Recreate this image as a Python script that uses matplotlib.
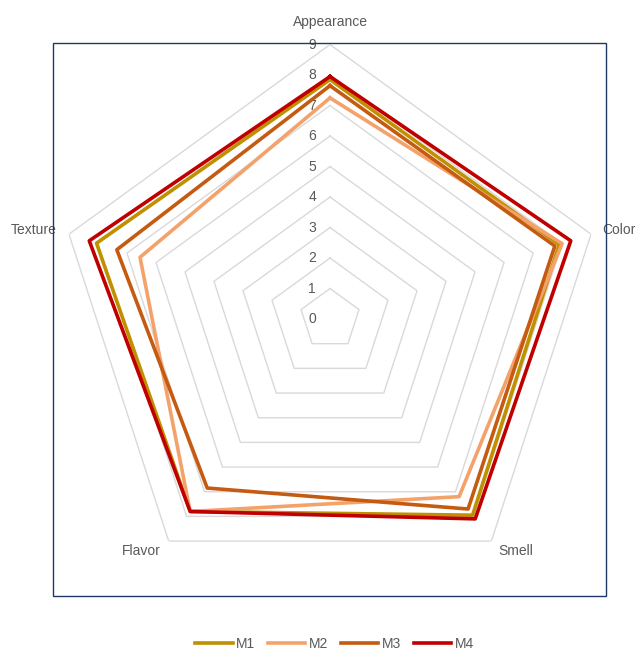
import numpy as np
import matplotlib.pyplot as plt
from matplotlib.patches import Rectangle
from matplotlib.transforms import offset_copy

plt.rcParams['font.family'] = ['Liberation Sans', 'DejaVu Sans']

categories = ['Appearance', 'Color', 'Smell', 'Flavor', 'Texture']
levels = [0, 1, 2, 3, 4, 5, 6, 7, 8, 9]

m1 = [7.85, 7.9, 7.95, 7.8, 8.05]
m2 = [7.25, 8.0, 7.2, 7.8, 6.55]
m3 = [7.65, 7.75, 7.7, 6.85, 7.35]
m4 = [7.95, 8.3, 8.1, 7.8, 8.3]

series = {'M1': m1, 'M2': m2, 'M3': m3, 'M4': m4}
colors = {'M1': '#BF9000', 'M2': '#F4A26B', 'M3': '#C55A11', 'M4': '#C00000'}

fig = plt.figure(figsize=(6.36, 6.5), dpi=100)
ax = fig.add_axes([0.0873, 0.0869, 0.8632, 0.8446], projection='polar')
ax.set_theta_offset(np.pi / 2)
ax.set_theta_direction(-1)
ax.set_ylim(0, 9)
ax.grid(False)
ax.set_xticks([])
ax.set_yticks([])
ax.spines['polar'].set_visible(False)
ax.patch.set_alpha(0)

angles = np.linspace(0, 2 * np.pi, len(categories), endpoint=False)
closed = np.append(angles, angles[0])

# pentagon grid
for lv in levels[1:]:
    ax.plot(closed, [lv] * (len(categories) + 1), color='#D9D9D9', lw=1, zorder=1)

# value labels
trans = offset_copy(ax.transData, fig=fig, x=-14, y=0, units='dots')
for lv in levels:
    ax.text(0, lv, str(lv), transform=trans, ha='right', va='center',
            fontsize=10, color='#595959')

# category labels (angle in degrees, radius)
label_pos = [(0, 9.74), (72.9, 9.9), (141.3, 9.75), (219.2, 9.8), (286.7, 10.16)]
for name, (deg, r) in zip(categories, label_pos):
    ax.text(np.deg2rad(deg), r, name, ha='center', va='center',
            fontsize=10, color='#595959')

for name, vals in series.items():
    ax.plot(closed, vals + vals[:1], color=colors[name], lw=2.6, label=name, zorder=3)

# plot area border
fig.add_artist(Rectangle((53 / 636, 1 - 596 / 650), 553 / 636, 553 / 650,
                         transform=fig.transFigure, fill=False,
                         edgecolor='#1F3864', lw=1))

fig.legend(loc='center', bbox_to_anchor=(0.526, 1 - 644 / 650), ncol=4, frameon=False,
           fontsize=10, handlelength=2.7, columnspacing=0.9, handletextpad=0.25,
           labelcolor='#595959')

fig.savefig('out.png', dpi=100)
